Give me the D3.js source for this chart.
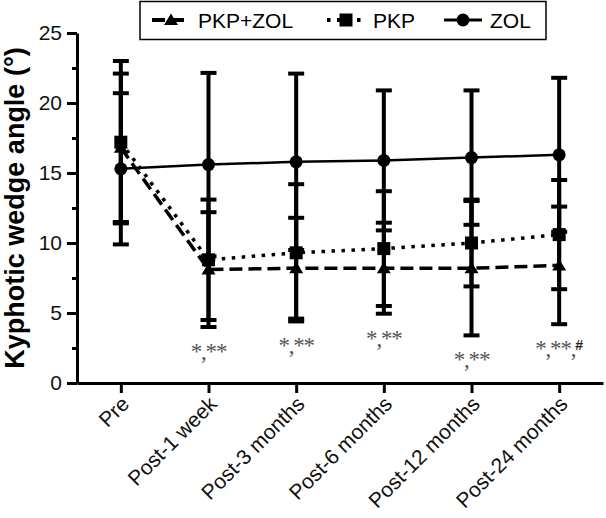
<!DOCTYPE html>
<html><head><meta charset="utf-8">
<script src="https://cdn.jsdelivr.net/npm/d3@7"></script>
<style>body{margin:0;background:#fff}</style>
</head><body>
<svg id="c" width="606" height="518"></svg>
<script>
const categories = ["Pre","Post-1 week","Post-3 months","Post-6 months","Post-12 months","Post-24 months"];
const seriesNames = ["PKP+ZOL","PKP","ZOL"];
const pkpZolMean = [16.8, 8.1, 8.2, 8.2, 8.2, 8.4];
const pkpZolSD   = [5.3, 4.1, 3.6, 3.25, 4.8, 4.2];
const pkpMean    = [17.2, 8.8, 9.3, 9.6, 10.0, 10.6];
const pkpSD      = [5.8, 4.3, 4.9, 4.1, 3.1, 3.9];
const zolMean    = [15.3, 15.6, 15.8, 15.9, 16.1, 16.3];
const zolSD      = [5.4, 6.55, 6.3, 5.0, 4.8, 5.5];
const annotations = ["", "*,**", "*,**", "*,**", "*,**", "*,**,#"];
const yTicks = [0,5,10,15,20,25];
const yMinorTicks = [2.5,7.5,12.5,17.5,22.5];
const yTitle = "Kyphotic wedge angle (°)";

const sans = "Arial, 'Liberation Sans', sans-serif";
const series = [
  {name:seriesNames[0], mean:pkpZolMean, sd:pkpZolSD, dash:"13 6", width:3.5, marker:"triangle"},
  {name:seriesNames[1], mean:pkpMean, sd:pkpSD, dash:"3.5 6.5", width:3.5, marker:"square"},
  {name:seriesNames[2], mean:zolMean, sd:zolSD, dash:null, width:2.5, marker:"circle"}
];

const svg = d3.select("#c");
const x = d3.scalePoint().domain(categories).range([77,603]).padding(0.5);
const y = d3.scaleLinear().domain([0,25]).range([383,33]);

// Y axis
const gy = svg.append("g").attr("transform","translate(77,0)")
  .call(d3.axisLeft(y).tickValues(yTicks).tickSize(10).tickSizeOuter(0).tickPadding(5));
gy.select(".domain").attr("stroke-width",3).attr("stroke","#000");
gy.selectAll(".tick line").attr("stroke-width",3).attr("stroke","#000");
gy.selectAll("text").attr("font-family",sans).attr("font-size",21).attr("fill","#111");
const gym = svg.append("g").attr("transform","translate(77,0)")
  .call(d3.axisLeft(y).tickValues(yMinorTicks).tickSize(5).tickFormat(""));
gym.select(".domain").remove();
gym.selectAll(".tick line").attr("stroke-width",3).attr("stroke","#000");

// X axis
const gx = svg.append("g").attr("transform","translate(0,383)")
  .call(d3.axisBottom(x).tickSize(10).tickSizeOuter(0));
gx.select(".domain").attr("stroke-width",3).attr("stroke","#000");
gx.selectAll(".tick line").attr("stroke-width",3).attr("stroke","#000");
gx.selectAll("text")
  .attr("font-family",sans).attr("font-size",21).attr("fill","#111")
  .attr("text-anchor","end").attr("x",0).attr("y",0).attr("dy","0.35em")
  .attr("transform","translate(4,17) rotate(-45)");

// Y title
svg.append("text")
  .attr("transform",`translate(24,${(y(0)+y(25))/2+0}) rotate(-90)`)
  .attr("text-anchor","middle")
  .attr("font-family",sans).attr("font-weight","bold").attr("font-size",27)
  .attr("fill","#000").text(yTitle);

// Error bars
const capW = 16;
series.forEach(s => {
  const g = svg.append("g").attr("stroke","#000").attr("stroke-width",4);
  categories.forEach((c,i) => {
    const lo = y(s.mean[i]-s.sd[i]), hi = y(s.mean[i]+s.sd[i]), cx = x(c);
    g.append("line").attr("x1",cx).attr("x2",cx).attr("y1",lo).attr("y2",hi);
    g.append("line").attr("x1",cx-capW/2).attr("x2",cx+capW/2).attr("y1",lo).attr("y2",lo);
    g.append("line").attr("x1",cx-capW/2).attr("x2",cx+capW/2).attr("y1",hi).attr("y2",hi);
  });
});

// Lines
const lineGen = d3.line().x((d,i)=>x(categories[i])).y(d=>y(d));
series.forEach(s => {
  svg.append("path").attr("d",lineGen(s.mean)).attr("fill","none")
    .attr("stroke","#000").attr("stroke-width",s.width)
    .attr("stroke-dasharray",s.dash);
});

// Markers
function drawMarker(g, type, cx, cy){
  if(type==="circle") g.append("circle").attr("cx",cx).attr("cy",cy).attr("r",6.5).attr("fill","#000");
  else if(type==="square") g.append("rect").attr("x",cx-6.5).attr("y",cy-6.5).attr("width",13).attr("height",13).attr("fill","#000");
  else g.append("path").attr("d",`M${cx},${cy-6.5}L${cx+7},${cy+5}L${cx-7},${cy+5}Z`).attr("fill","#000");
}
series.forEach(s => {
  const g = svg.append("g");
  s.mean.forEach((m,i)=>drawMarker(g,s.marker,x(categories[i]),y(m)));
});

// Annotations
categories.forEach((c,i) => {
  if(!annotations[i]) return;
  const low = d3.min(series, s => s.mean[i]-s.sd[i]);
  const t = svg.append("text").attr("x",x(c)).attr("y",y(low)+24).attr("dy","0.35em")
    .attr("text-anchor","middle").attr("font-family","'Liberation Serif', 'Times New Roman', serif")
    .attr("font-size",23).attr("letter-spacing",-1.2).attr("fill","#555");
  const parts = annotations[i].split("#");
  t.append("tspan").text(parts[0]);
  if(parts.length>1){
    t.append("tspan").attr("font-family",sans).attr("font-weight","bold").attr("font-size",14)
      .attr("letter-spacing",0).attr("fill","#222").attr("dy","-6").text("#");
  }
});

// Legend
const lg = svg.append("g");
lg.append("rect").attr("x",140).attr("y",1.5).attr("width",406).attr("height",38)
  .attr("fill","#fff").attr("stroke","#000").attr("stroke-width",1.5);
const legendX = [152, 327, 444];
series.forEach((s,i) => {
  const x0 = legendX[i], cy = 20;
  lg.append("line").attr("x1",x0).attr("x2",x0+38).attr("y1",cy).attr("y2",cy)
    .attr("stroke","#000").attr("stroke-width",s.width+0.5).attr("stroke-dasharray",s.dash);
  drawMarker(lg, s.marker, x0+19, cy);
  lg.append("text").attr("x",x0+46).attr("y",cy).attr("dy","0.36em")
    .attr("font-family",sans).attr("font-size",21).attr("fill","#000").text(s.name);
});
</script>
</body></html>
